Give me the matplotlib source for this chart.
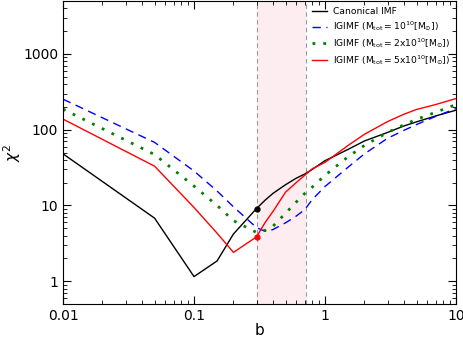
import matplotlib
matplotlib.use("Agg")
import matplotlib.pyplot as plt
from matplotlib.ticker import FuncFormatter, LogLocator

b = [0.01, 0.05, 0.1, 0.15, 0.2, 0.3, 0.35, 0.4, 0.5, 0.6, 0.7, 0.8, 1.0, 1.5, 2, 3, 4, 5, 7, 10]
chi_canonical = [48, 6.8, 1.15, 1.85, 4.2, 9.1, 11.8, 14.4, 18.8, 22.8, 26.0, 30.0, 39, 55, 71, 92, 112, 127, 152, 181]
chi_ig_1e10 = [253, 68, 28.5, 15.5, 9.6, 5.1, 4.55, 4.8, 5.9, 7.2, 8.8, 12.0, 17.8, 32, 48, 77, 98, 117, 150, 190]
chi_ig_2e10 = [187, 47, 18, 10, 6.3, 4.4, 4.7, 5.3, 7.9, 11.0, 14.4, 17.5, 25, 44, 62, 92, 116, 137, 170, 215]
chi_ig_5e10 = [138, 33, 9.4, 4.3, 2.4, 3.85, 6.0, 8.3, 15.0, 19.9, 25.0, 30.5, 37, 62, 87, 128, 160, 185, 215, 258]

labels = ["Canonical IMF",
          r"IGIMF ($\mathrm{M_{tot}=10^{10}[M_{\odot}]}$)",
          r"IGIMF ($\mathrm{M_{tot}=2x10^{10}[M_{\odot}]}$)",
          r"IGIMF ($\mathrm{M_{tot}=5x10^{10}[M_{\odot}]}$)"]
b_best = 0.3
span = (0.3, 0.72)

fig = plt.figure(figsize=(4.64, 3.38), dpi=100)
ax = fig.add_axes([0.1358, 0.1006, 0.8470, 0.8964])

ax.axvspan(span[0], span[1], color="#fdedf1", zorder=0, lw=0)
for v in span:
    ax.axvline(v, color="#999999", ls=(0, (4, 3)), lw=0.8, zorder=1)

ax.plot(b, chi_canonical, color="black", lw=1.0, label=labels[0])
ax.plot(b, chi_ig_1e10, color="blue", lw=1.0, ls=(0, (6, 4)), label=labels[1])
ax.plot(b, chi_ig_2e10, color="green", lw=2.0, ls=(0, (1, 2.9)), label=labels[2])
ax.plot(b, chi_ig_5e10, color="red", lw=1.0, label=labels[3])

i = b.index(b_best)
ax.plot([b_best], [chi_canonical[i]], "o", color="black", ms=3.5)
ax.plot([b_best], [chi_ig_5e10[i]], "o", color="red", ms=3.5)

ax.set_xscale("log")
ax.set_yscale("log")
ax.set_xlim(0.01, 10)
ax.set_ylim(0.5, 5000)

fmt = FuncFormatter(lambda v, p: "%g" % v)
ax.xaxis.set_major_formatter(fmt)
ax.yaxis.set_major_formatter(fmt)
ax.yaxis.set_major_locator(LogLocator(base=10, numticks=10))
ax.yaxis.set_minor_locator(LogLocator(base=10, subs=range(2, 10), numticks=20))
ax.tick_params(which="both", direction="in", top=True, right=True, labelsize=10)
ax.tick_params(which="major", length=6, width=0.8)
ax.tick_params(which="minor", length=3, width=0.6)

ax.set_xlabel("b", fontsize=11, labelpad=0)
ax.set_ylabel(r"$\chi^2$", fontsize=11, labelpad=0)

ax.legend(loc="upper right", frameon=False, fontsize=6.6, handlelength=1.6,
          borderaxespad=0.3, labelspacing=0.32, handletextpad=0.6)

fig.savefig("out.png", dpi=100)
